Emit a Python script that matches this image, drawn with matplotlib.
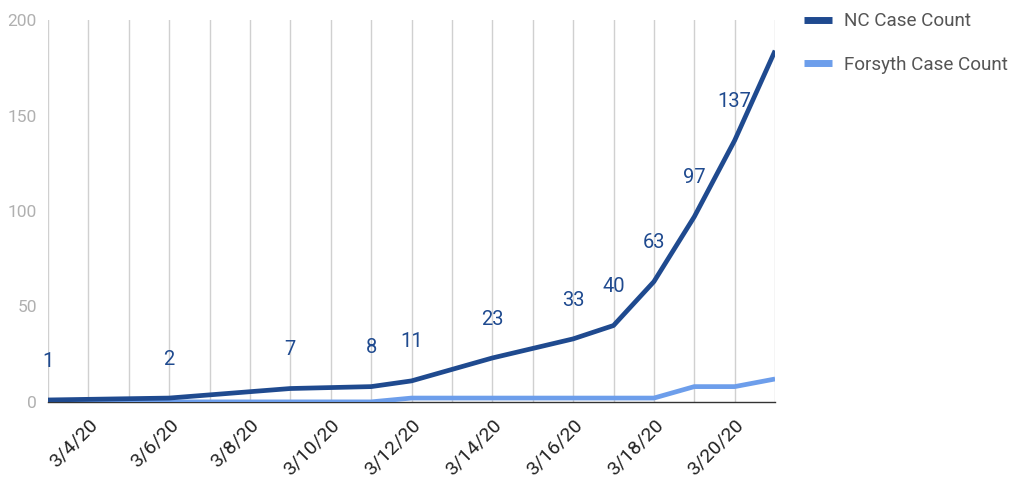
import matplotlib.pyplot as plt
import matplotlib.dates as mdates
import matplotlib.transforms as mtransforms
from datetime import datetime

plt.rcParams['font.family'] = ['Roboto', 'DejaVu Sans']

dates = ["3/3/20", "3/6/20", "3/9/20", "3/11/20", "3/12/20", "3/14/20",
         "3/16/20", "3/17/20", "3/18/20", "3/19/20", "3/20/20", "3/21/20"]
nc_cases = [1, 2, 7, 8, 11, 23, 33, 40, 63, 97, 137, 184]
forsyth_cases = [0, 0, 0, 0, 2, 2, 2, 2, 2, 8, 8, 12]
labeled = [True] * 11 + [False]

x = [datetime.strptime(d, "%m/%d/%y") for d in dates]

nc_color = '#1f4a8f'
fo_color = '#6d9eeb'

fig = plt.figure(figsize=(10.12, 4.79), dpi=100)
ax = fig.add_axes([0.0474, 0.161, 0.7185, 0.797])

# daily vertical gridlines
ax.xaxis.set_minor_locator(mdates.DayLocator())
ax.grid(True, axis='x', which='both', color='#d0d0d0', linewidth=1)
ax.set_axisbelow(True)

ax.plot(x, forsyth_cases, color=fo_color, linewidth=3.4, solid_capstyle='butt',
        label='Forsyth Case Count', zorder=3)
ax.plot(x, nc_cases, color=nc_color, linewidth=3.4, solid_capstyle='butt',
        label='NC Case Count', zorder=4)

for xi, v, lab in zip(x, nc_cases, labeled):
    if lab:
        ax.annotate(str(v), (mdates.date2num(xi), v), xytext=(0, 28),
                    textcoords='offset points', ha='center', va='center',
                    fontsize=14.5, color=nc_color)

ax.set_xlim(mdates.date2num(x[0]), mdates.date2num(x[-1]))
ax.set_ylim(0, 200)
ax.set_yticks([0, 50, 100, 150, 200])
ax.xaxis.set_major_locator(mdates.DayLocator(bymonthday=range(4, 21, 2)))
ax.xaxis.set_major_formatter(mdates.DateFormatter('%-m/%-d/%y'))
shift = mtransforms.ScaledTranslation(10 / 100, 0, fig.dpi_scale_trans)
for lbl in ax.get_xticklabels():
    lbl.set_rotation(45)
    lbl.set_ha('right')
    lbl.set_rotation_mode('anchor')
    lbl.set_transform(lbl.get_transform() + shift)
ax.tick_params(axis='x', which='both', length=0, labelsize=14, labelcolor='#222222', pad=10)
ax.tick_params(axis='y', length=0, labelsize=12.5, labelcolor='#b0b0b0', pad=8)

for s in ['top', 'right', 'left']:
    ax.spines[s].set_visible(False)
ax.spines['bottom'].set_color('#333333')
ax.spines['bottom'].set_linewidth(1)

handles, labels = ax.get_legend_handles_labels()
leg = fig.legend(handles[::-1], labels[::-1], loc='upper left',
                 bbox_to_anchor=(0.778, 1.01), frameon=False, fontsize=13.6,
                 handlelength=1.45, handletextpad=0.65, labelspacing=1.35)
for t in leg.get_texts():
    t.set_color('#555555')
for h in leg.get_lines():
    h.set_linewidth(5)

fig.savefig('out.png', dpi=100)
